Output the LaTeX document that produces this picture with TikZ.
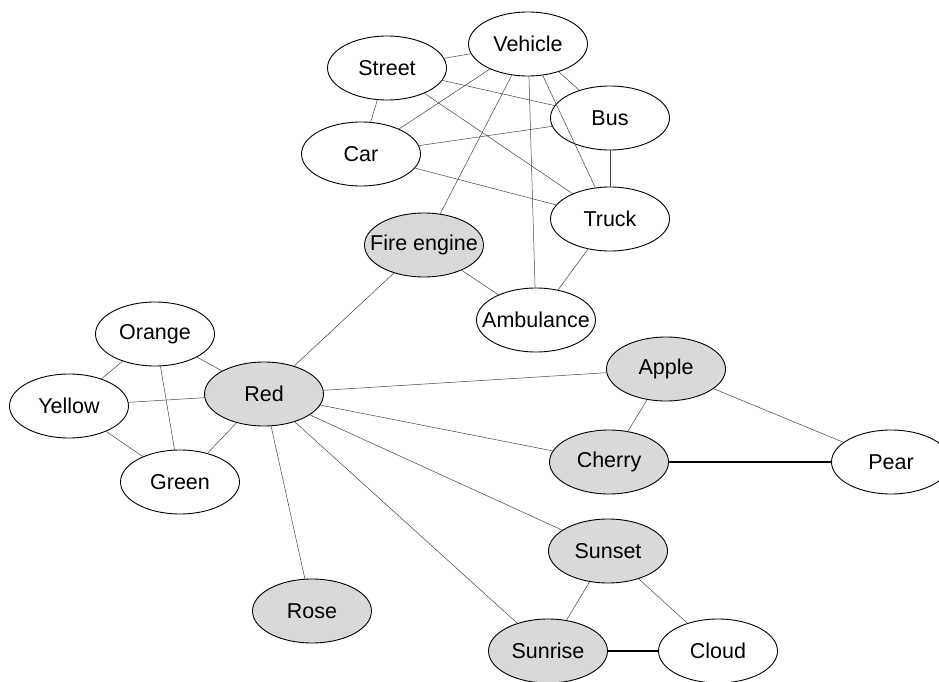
\documentclass[tikz,border=0pt]{standalone}
\usepackage{fontspec}
\setmainfont{Liberation Sans}
\usetikzlibrary{shapes.geometric}
\definecolor{nodegray}{HTML}{D9D9D9}
\definecolor{edgegray}{HTML}{444444}
\tikzset{
  nd/.style={ellipse, draw=black, line width=0.9pt, fill=white, minimum width=119pt, minimum height=64pt, inner sep=0pt, font=\fontsize{21.5}{25}\selectfont},
  hl/.style={nd, fill=nodegray},
  tight/.style={inner xsep=-12pt},
  ed/.style={draw=edgegray, line width=0.5pt},
  thick ed/.style={draw=black, line width=1.1pt}
}
\begin{document}
\begin{tikzpicture}[x=1pt,y=-1pt]
\useasboundingbox (0,0) rectangle (939,682);
\node[nd] (vehicle) at (528,44) {Vehicle};
\node[nd] (street) at (387,68) {Street};
\node[nd] (bus) at (610,118) {Bus};
\node[nd] (car) at (361,154) {Car};
\node[nd] (truck) at (610,219) {Truck};
\node[hl,tight] (fire) at (424,245) {Fire engine};
\node[nd,tight] (amb) at (536,320) {Ambulance};
\node[nd] (orange) at (155,334) {Orange};
\node[hl] (red) at (264,394) {Red};
\node[nd] (yellow) at (69,406) {Yellow};
\node[nd] (green) at (180,482) {Green};
\node[hl] (apple) at (666,369) {Apple};
\node[hl] (cherry) at (609,462) {Cherry};
\node[nd] (pear) at (891,462) {Pear};
\node[hl] (sunset) at (608,551) {Sunset};
\node[hl] (rose) at (312,611) {Rose};
\node[hl] (sunrise) at (548,651) {Sunrise};
\node[nd] (cloud) at (718,651) {Cloud};
\foreach \a/\b in {vehicle/street, vehicle/car, vehicle/bus, vehicle/truck, vehicle/fire, vehicle/amb,
  street/car, street/bus, street/truck, car/bus, car/truck, bus/truck, truck/amb, fire/amb, fire/red,
  orange/yellow, orange/red, orange/green, yellow/red, yellow/green, green/red,
  red/apple, red/cherry, red/sunset, red/sunrise, red/rose, apple/cherry, apple/pear,
  sunset/sunrise, sunset/cloud}
  \draw[ed] (\a) -- (\b);
\draw[thick ed] (cherry) -- (pear);
\draw[thick ed] (sunrise) -- (cloud);
\end{tikzpicture}
\end{document}
